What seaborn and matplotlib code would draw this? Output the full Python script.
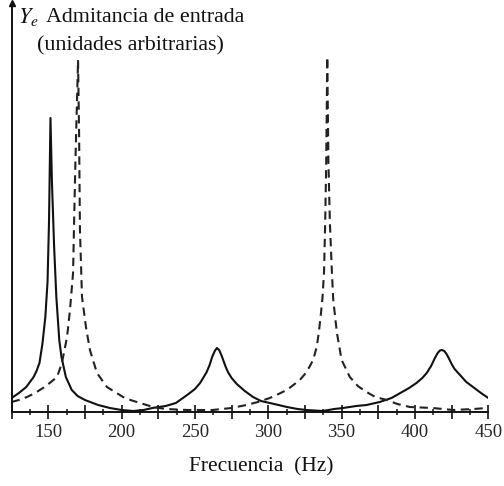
import matplotlib
matplotlib.use("Agg")
import matplotlib.pyplot as plt
import seaborn as sns
import pandas as pd
from matplotlib.ticker import FixedLocator, FixedFormatter

# ---- data ----
freq_solid = [125, 130, 135, 140, 142, 144, 146, 148, 149.5, 150.5, 151.5, 152.5, 154, 155.5,
              157.5, 159, 162, 166, 170, 175, 184, 192, 200, 208, 215, 221, 230, 237,
              244.7, 250, 253.5, 256, 258, 260, 261.7, 263.5, 265, 266.5, 268, 269.5, 271,
              272.5, 275, 278.5, 284, 289.6, 295, 301,
              307, 312.7, 320, 326, 337, 345, 351, 360, 367, 376, 384, 390, 396, 401, 405,
              408, 411, 413.6, 415.5, 417, 418.4, 420, 421.5, 423, 425, 427, 430.7, 435,
              439.6, 445, 450]
adm_solid = [14, 19, 25, 35, 41, 49, 68, 95, 130, 190, 294, 230, 165, 115,
             72, 55, 35, 22, 16, 12, 7, 4, 2, 1, 2, 4, 6, 9,
             17, 23, 29, 35, 40, 47, 55, 61, 64, 62, 57, 51, 45,
             40, 34, 28, 21, 15, 11, 9,
             7, 5, 3, 2, 1, 3, 4, 6, 7, 10, 14, 19, 24, 29, 34,
             39, 46, 54, 59, 61.5, 62, 61, 58, 54, 48, 43, 37, 30,
             25, 19, 14]

freq_dashed = [125, 130, 135.5, 141, 146.4, 151, 156, 159.3, 162.8, 164.8, 166.9, 167.5,
               168.5, 170.3, 171, 171.6, 173, 175.7, 178.4, 183.2, 190, 201, 206, 212.6,
               221.5, 230, 244.7, 262, 275, 285, 293, 301, 307, 312.6, 318, 321.5, 325, 328,
               330.6, 333, 334.5, 336, 337, 338, 338.8, 339.5, 340.2, 341, 342, 343.4, 344.3,
               346.8, 350, 355.6, 361, 367, 373, 380.8, 388, 396.5, 412, 426, 440, 449]
adm_dashed = [10, 12, 15, 19, 24, 29, 35, 49, 75, 102, 139, 182,
              250, 352, 280, 182, 115, 85, 62, 39, 25, 15, 12, 9,
              5, 3, 2, 2, 4, 7, 10, 14, 18, 22, 28, 32, 38, 45,
              52, 65, 80, 100, 115, 140, 189, 250, 355, 250, 189, 139, 112,
              79, 52, 35, 26, 20, 15, 12, 8, 5, 4, 2, 3, 4]

x_major = [125, 150, 175, 200, 225, 250, 275, 300, 325, 350, 375, 400, 425, 450]
x_labels = ["", "150", "", "200", "", "250", "", "300", "", "350", "", "400", "", "450"]
x_minor = [137.5, 162.5, 187.5, 212.5, 237.5, 262.5, 287.5, 312.5, 337.5, 362.5,
           387.5, 412.5, 437.5]

title_sym = "$Y_e$"
title_line1 = "Admitancia de entrada"
title_line2 = "(unidades arbitrarias)"
xlabel = "Frecuencia  (Hz)"

# ---- plot ----
sns.set_style("white")
plt.rcParams["font.family"] = ["Liberation Serif", "DejaVu Serif"]
plt.rcParams["mathtext.fontset"] = "stix"

W, H = 504, 486
fig = plt.figure(figsize=(W / 100, H / 100), dpi=100)
ax = fig.add_axes([11.6 / W, 1 - 412 / H, (488.3 - 11.6) / W, (412 - 3) / H])

df_s = pd.DataFrame({"f": freq_solid, "y": adm_solid})
df_d = pd.DataFrame({"f": freq_dashed, "y": adm_dashed})
sns.lineplot(data=df_s, x="f", y="y", ax=ax, color="#111111", lw=1.5, sort=False)
sns.lineplot(data=df_d, x="f", y="y", ax=ax, color="#222222", lw=1.5, sort=False,
             linestyle=(0, (4, 2.6)))

ax.set_xlim(125, 450)
ax.set_ylim(0, 409)
for s in ["top", "right"]:
    ax.spines[s].set_visible(False)
for s in ["left", "bottom"]:
    ax.spines[s].set_color("#111111")
    ax.spines[s].set_linewidth(1.4)
ax.set_yticks([])
ax.xaxis.set_major_locator(FixedLocator(x_major))
ax.xaxis.set_major_formatter(FixedFormatter(x_labels))
ax.xaxis.set_minor_locator(FixedLocator(x_minor))
ax.tick_params(axis="x", which="major", direction="inout", length=9.5, width=1.2,
               color="#111111", labelsize=13.5, pad=4, bottom=True)
ax.tick_params(axis="x", which="minor", direction="inout", length=5, width=1.1,
               color="#111111", bottom=True)
ax.set_xlabel("")
ax.set_ylabel("")
ax.plot([0], [1], marker="^", color="#111111", markersize=5, transform=ax.transAxes,
        clip_on=False)

fig.text(18 / W, 1 - 17 / H, title_sym, fontsize=16, va="center", ha="left", color="#111111")
fig.text(46 / W, 1 - 17 / H, title_line1, fontsize=15.8, va="center", ha="left", color="#111111")
fig.text(37 / W, 1 - 46 / H, title_line2, fontsize=15.8, va="center", ha="left", color="#111111")
fig.text(261 / W, 1 - 467 / H, xlabel, fontsize=15.5, va="center", ha="center", color="#111111")

fig.savefig("out.png", dpi=100)
